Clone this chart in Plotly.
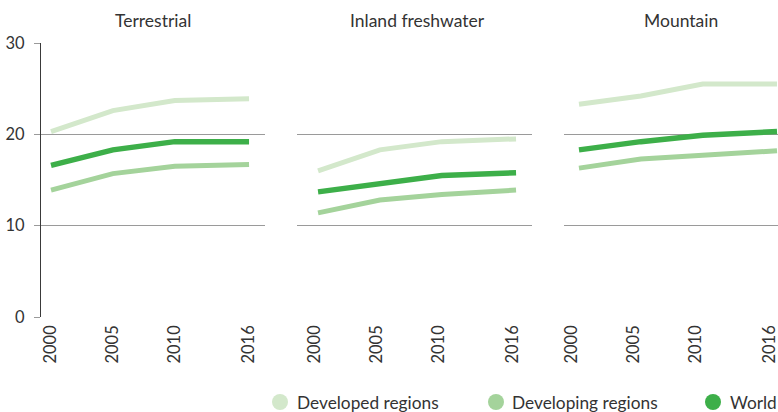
import plotly.graph_objects as go

# Protected area coverage by ecosystem type (%), 2000-2016
years = [2000, 2005, 2010, 2016]
panels = ["Terrestrial", "Inland freshwater", "Mountain"]

developed_terrestrial = [20.3, 22.6, 23.7, 23.9]
developing_terrestrial = [13.9, 15.7, 16.5, 16.7]
world_terrestrial = [16.6, 18.3, 19.2, 19.2]

developed_freshwater = [16.0, 18.3, 19.2, 19.5]
developing_freshwater = [11.4, 12.8, 13.4, 13.9]
world_freshwater = [13.7, 14.6, 15.5, 15.8]

developed_mountain = [23.3, 24.2, 25.5, 25.5]
developing_mountain = [16.3, 17.3, 17.7, 18.2]
world_mountain = [18.3, 19.2, 19.9, 20.3]

y_ticks = [0, 10, 20, 30]
series_names = ["Developed regions", "Developing regions", "World"]
series_colors = ["#d3e8cb", "#a4d39b", "#3daf49"]

panel_data = [
    [developed_terrestrial, developing_terrestrial, world_terrestrial],
    [developed_freshwater, developing_freshwater, world_freshwater],
    [developed_mountain, developing_mountain, world_mountain],
]

W, H = 778, 412
M_T, M_B = 43, 95
PLOT_H = H - M_T - M_B

# panel extents in pixels, x ranges and tick-label shifts
panel_px = [(41, 265), (297, 532), (564, 778)]
panel_ranges = [[1999.19, 2017.29], [1998.30, 2017.29], [1998.79, 2016.08]]
label_shift = [0, -3, -7]

FONT = "Lato"
TEXT = "#333333"
GRID = "#9a9a9a"

fig = go.Figure()

for i, series in enumerate(panel_data):
    ax = "" if i == 0 else str(i + 1)
    # draw order: developed, developing, world on top
    for vals, color, name in zip(series, series_colors, series_names):
        fig.add_trace(go.Scatter(
            x=years, y=vals, mode="lines", name=name,
            line=dict(color=color, width=5.5 if name == "World" else 5),
            xaxis="x" + ax, yaxis="y" + ax, showlegend=False,
            hoverinfo="x+y+name",
        ))

layout = dict(
    width=W, height=H,
    margin=dict(l=0, r=0, t=M_T, b=M_B),
    paper_bgcolor="white", plot_bgcolor="white",
    font=dict(family=FONT, color=TEXT, size=16),
    showlegend=False,
)

for i in range(3):
    ax = "" if i == 0 else str(i + 1)
    x0, x1 = panel_px[i]
    layout["xaxis" + ax] = dict(
        domain=[x0 / W, x1 / W], range=panel_ranges[i],
        tickmode="array", tickvals=years, ticktext=[str(y) for y in years],
        tickangle=-90, showgrid=False, zeroline=False, showline=False,
        ticks="", ticklabelstandoff=4, ticklabelshift=label_shift[i],
        ticklabeloverflow="allow",
        tickfont=dict(family=FONT, size=16.5, color=TEXT),
        anchor="y" + ax, fixedrange=True, automargin=False,
    )
    yax = dict(
        domain=[0, 1], range=[0, 30],
        tickmode="array", tickvals=y_ticks,
        showgrid=True, gridcolor=GRID, gridwidth=1, zeroline=False,
        anchor="x" + ax, fixedrange=True, automargin=False,
    )
    if i == 0:
        yax.update(showline=True, linecolor="#3a3a3a", linewidth=1,
                   ticks="outside", ticklen=6, tickcolor=GRID,
                   showticklabels=True, ticklabelstandoff=6,
                   tickfont=dict(family=FONT, size=16.5, color=TEXT))
    else:
        yax.update(showline=False, ticks="", showticklabels=False)
    layout["yaxis" + ax] = yax

annotations = []
for i, title in enumerate(panels):
    cx = [153, 417, 681][i]
    annotations.append(dict(
        text=title, xref="paper", yref="paper",
        x=cx / W, y=1 + (M_T - 20) / PLOT_H,
        xanchor="center", yanchor="middle", showarrow=False,
        font=dict(family=FONT, size=17.5, color=TEXT),
    ))

# legend row along the bottom
legend_circle_x = [280, 496, 713]
legend_text_x = [295, 510, 728]
legend_y_px = 402
shapes = []
for cx, tx, name, color in zip(legend_circle_x, legend_text_x, series_names, series_colors):
    ypap = (H - M_B - legend_y_px) / PLOT_H
    shapes.append(dict(
        type="circle", xref="paper", yref="paper",
        xsizemode="pixel", ysizemode="pixel",
        xanchor=cx / W, yanchor=ypap,
        x0=-8, x1=8, y0=-8, y1=8,
        fillcolor=color, line=dict(width=0),
    ))
    annotations.append(dict(
        text=name, xref="paper", yref="paper",
        x=tx / W, y=ypap, xanchor="left", yanchor="middle",
        showarrow=False, font=dict(family=FONT, size=17.3, color=TEXT),
    ))

layout["annotations"] = annotations
layout["shapes"] = shapes
fig.update_layout(**layout)

fig.write_html("out.html", config={"displayModeBar": False})
